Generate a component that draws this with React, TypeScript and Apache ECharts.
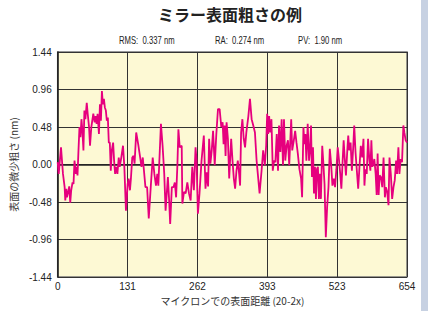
import React, { useEffect, useRef } from "react";
import * as echarts from "echarts";

const chartTitle = "ミラー表面粗さの例";
const statTexts = ["RMS:  0.337 nm", "RA:  0.274 nm", "PV:  1.90 nm"];
const xAxisName = "マイクロンでの表面距離 (20-2x)";
const yAxisName = "表面の微少粗さ (nm)";
const xTickLabels = ["0", "131", "262", "393", "523", "654"];

const distance = [
  0, 1.9, 6.2, 9.9, 13.0, 14.2, 16.1, 17.3, 19.1, 21.6,
  23.5, 25.3, 27.8, 29.6, 31.5, 34.0, 35.8, 37.1, 38.9, 40.8,
  42.6, 44.5, 46.3, 48.2, 50.0, 51.9, 54.4, 56.2, 58.7, 60.5,
  63.0, 66.7, 69.2, 71.0, 72.9, 74.7, 77.2, 79.1, 80.9, 82.8,
  84.6, 86.5, 88.3, 90.2, 92.0, 93.9, 95.7, 97.6, 99.4, 101.3,
  103.8, 105.6, 107.5, 109.9, 111.8, 114.3, 116.1, 118.6, 122.3, 124.8,
  127.8, 131.0, 132.8, 135.3, 137.1, 139.6, 142.0, 143.9, 147.0, 150.7,
  154.4, 156.9, 159.3, 164.3, 167.4, 170.5, 174.2, 177.9, 181.0, 184.0,
  186.5, 188.4, 193.3, 196.4, 199.5, 202.0, 206.3, 208.8, 210.6, 213.7,
  216.8, 219.3, 221.7, 224.2, 226.0, 228.5, 232.2, 233.4, 236.5, 239.6,
  242.7, 245.8, 248.9, 252.0, 255.0, 258.1, 260.0, 262.5, 265.5, 269.3,
  273.6, 276.7, 279.1, 281.6, 283.5, 285.9, 288.4, 290.9, 294.0, 297.0,
  300.1, 303.2, 306.3, 308.8, 310.6, 312.5, 314.3, 316.2, 318.7, 321.1,
  324.8, 327.3, 329.8, 332.2, 334.7, 337.2, 339.7, 341.5, 343.4, 345.8,
  348.3, 350.8, 353.2, 357.0, 360.0, 363.1, 366.2, 369.3, 372.4, 375.5,
  378.0, 381.7, 384.7, 387.8, 390.3, 392.2, 394.0, 395.9, 397.7, 400.2,
  402.7, 405.1, 407.6, 410.1, 412.5, 414.4, 416.9, 419.3, 421.8, 423.7,
  426.1, 428.6, 431.1, 433.5, 437.2, 439.1, 442.1, 444.6, 447.1, 449.6,
  452.6, 455.7, 457.6, 460.1, 461.9, 463.8, 465.6, 468.1, 470.6, 472.4,
  474.3, 476.1, 478.0, 479.8, 481.7, 483.5, 485.4, 487.2, 489.1, 490.9,
  492.8, 495.3, 497.1, 499.6, 502.0, 504.5, 507.0, 509.5, 511.9, 514.4,
  516.9, 519.3, 521.8, 524.3, 526.8, 529.2, 531.1, 533.5, 535.4, 537.3,
  539.7, 542.2, 544.0, 545.9, 548.4, 550.8, 553.3, 555.2, 557.6, 560.1,
  562.6, 565.0, 567.5, 570.0, 572.5, 574.3, 576.2, 578.6, 581.1, 583.6,
  585.4, 587.3, 589.1, 591.0, 592.8, 595.3, 597.2, 599.0, 600.9, 602.7,
  605.2, 607.7, 610.1, 612.6, 614.4, 616.9, 619.4, 621.2, 623.7, 626.2,
  628.7, 631.1, 633.6, 635.4, 637.9, 639.8, 642.2, 644.7, 647.2, 649.0,
  651.5, 654.0,
];

const roughness = [
  0.03, -0.12, 0.22, -0.12, -0.29, -0.46, -0.31, -0.42, -0.37, -0.28,
  -0.49, -0.33, -0.23, -0.25, 0.05, -0.12, -0.03, -0.14, 0.18, 0.48,
  0.35, 0.58, 0.43, 0.18, 0.69, 0.58, 0.79, 0.65, 0.48, 0.24,
  0.48, 0.65, 0.54, 0.62, 0.52, 0.65, 0.39, 0.77, 0.56, 0.94,
  0.77, 0.84, 0.73, 0.69, 0.56, 0.60, 0.28, 0.28, -0.08, 0.18,
  0.28, 0.05, -0.12, -0.03, -0.12, 0.09, -0.03, 0.07, 0.24, -0.03,
  -0.59, -0.25, -0.18, -0.33, -0.18, 0.09, 0.11, 0.01, 0.41, 0.26,
  0.09, -0.03, 0.09, -0.29, -0.29, -0.69, -0.29, 0.09, -0.12, -0.27,
  -0.12, -0.27, 0.52, 0.24, -0.12, -0.59, -0.16, -0.48, -0.76, -0.29,
  -0.29, -0.23, -0.42, 0.01, 0.45, 0.22, 0.24, -0.50, -0.35, -0.37,
  -0.23, -0.37, -0.46, -0.03, -0.33, 0.22, 0.05, -0.63, -0.37, 0.05,
  0.37, -0.31, -0.10, -0.28, 0.33, 0.01, 0.18, 0.43, -0.01, 0.39,
  0.71, 0.71, 0.48, 0.54, 0.26, 0.50, 0.11, 0.54, 0.33, -0.18,
  0.33, 0.05, -0.18, -0.31, -0.08, 0.05, -0.12, -0.27, 0.41, 0.58,
  0.33, 0.22, 0.41, 0.62, 0.84, 0.58, 0.50, 0.41, 0.05, -0.18,
  -0.37, -0.08, 0.18, -0.01, 0.24, 0.65, 0.39, 0.62, 0.41, 0.58,
  -0.08, 0.05, 0.03, 0.39, -0.08, 0.50, 0.16, 0.58, -0.01, 0.58,
  0.05, 0.24, 0.31, -0.01, 0.58, 0.18, 0.31, 0.43, 0.28, 0.14,
  -0.06, -0.18, -0.42, 0.48, 0.26, 0.39, 0.05, 0.52, 0.05, 0.18,
  0.50, -0.16, 0.22, -0.37, -0.03, -0.44, -0.06, -0.03, -0.44, -0.12,
  -0.44, 0.24, 0.05, -0.25, -0.93, -0.54, -0.29, 0.20, 0.01, -0.27,
  -0.18, -0.29, -0.06, 0.22, 0.05, -0.14, -0.31, 0.05, 0.31, 0.09,
  -0.14, 0.18, 0.37, 0.18, 0.28, -0.08, 0.22, 0.50, 0.16, -0.08,
  -0.31, -0.03, 0.24, 0.09, 0.33, -0.27, -0.06, -0.12, 0.33, 0.05,
  -0.08, 0.31, -0.03, 0.01, 0.07, -0.12, -0.39, 0.14, -0.39, -0.14,
  -0.16, -0.29, 0.09, -0.42, -0.29, -0.35, -0.52, 0.09, -0.12, -0.44,
  -0.29, -0.20, 0.05, -0.12, 0.22, -0.12, 0.07, 0.03, 0.50, 0.41,
  0.31, 0.28,
];

const labelFont = '"Liberation Sans", Arial, sans-serif';
const cjkFont = '"Noto Sans CJK JP", sans-serif';

export default function App() {
  const ref = useRef<HTMLDivElement>(null);
  useEffect(() => {
    if (!ref.current) return;
    const chart = echarts.init(ref.current, undefined, { renderer: "svg" });
    const n = Math.min(distance.length, roughness.length);
    const data: number[][] = [];
    for (let i = 0; i < n; i++) data.push([distance[i], roughness[i]]);
    const statX = [119, 215, 298];
    chart.setOption({
      animation: false,
      backgroundColor: "#ffffff",
      graphic: [
        { type: "rect", shape: { x: 421, y: 0, width: 7, height: 311 }, style: { fill: "#c7d1e2" } },
        {
          type: "text",
          style: {
            text: chartTitle, x: 230, y: 14, align: "center", verticalAlign: "middle",
            fontSize: 16, fontWeight: "bold", fontFamily: cjkFont, fill: "#222",
          },
        },
        ...statTexts.map((t, i) => ({
          type: "text",
          x: statX[i],
          y: 40,
          scaleX: 0.7,
          style: {
            text: t, x: 0, y: 0, align: "left", verticalAlign: "middle",
            fontSize: 11, fontFamily: labelFont, fill: "#222",
          },
        })),
      ],
      grid: {
        left: 54, right: 21, top: 52, bottom: 34,
        show: true, backgroundColor: "#fdf9d4", borderColor: "#777", borderWidth: 1.5,
      },
      xAxis: {
        type: "value", min: 0, max: 654, interval: 130.8,
        name: xAxisName, nameLocation: "middle", nameGap: 15,
        nameTextStyle: { fontSize: 10, color: "#333", fontFamily: cjkFont },
        axisLine: { show: true, lineStyle: { color: "#222", width: 1.5 } },
        axisTick: { show: false },
        axisLabel: {
          fontSize: 10, color: "#222", fontFamily: labelFont, margin: 4,
          formatter: (v: number) => xTickLabels[Math.round(v / 130.8)] ?? "",
        },
        splitLine: { show: true, lineStyle: { color: "#333", width: 1 } },
      },
      yAxis: {
        type: "value", min: -1.44, max: 1.44, interval: 0.48,
        name: yAxisName, nameLocation: "middle", nameGap: 33,
        nameTextStyle: { fontSize: 10, color: "#333", fontFamily: cjkFont },
        axisLine: { show: true, lineStyle: { color: "#222", width: 1.5 } },
        axisTick: { show: false },
        axisLabel: {
          fontSize: 10, color: "#222", fontFamily: labelFont, margin: 6,
          formatter: (v: number) => (Math.abs(v) < 1e-9 ? "0.00" : v.toFixed(2)),
        },
        splitLine: { show: true, lineStyle: { color: "#333", width: 1 } },
      },
      series: [
        {
          type: "line", data, showSymbol: false, symbol: "none",
          lineStyle: { color: "#e6007e", width: 1.8 }, z: 3,
        },
      ],
    });
    return () => chart.dispose();
  }, []);
  return (
    <div
      ref={ref}
      style={{ position: "fixed", left: 0, top: 0, width: 428, height: 311, background: "#fff" }}
    />
  );
}
